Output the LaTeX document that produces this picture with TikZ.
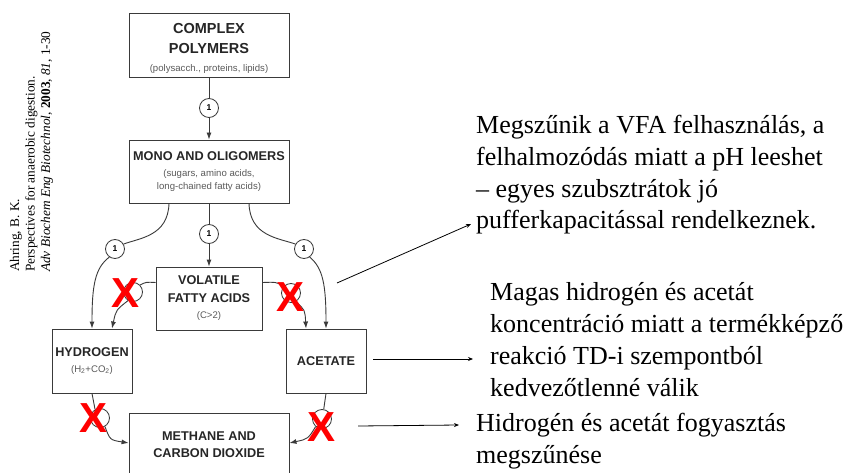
\documentclass[tikz,border=0pt]{standalone}
\usepackage{fontspec}
\setmainfont{Liberation Serif}
\newfontfamily\arialfont{Liberation Sans}
\usetikzlibrary{arrows.meta}
\definecolor{linegray}{HTML}{3A3A3A}
\definecolor{subgray}{HTML}{5A5A5A}
\newcommand{\subline}[1]{{\fontsize{9.6}{11.5}\selectfont\mdseries\color{subgray}#1}}
\tikzset{
  stagebox/.style={draw=linegray, line width=0.9pt, fill=white, inner sep=0pt, align=center,
    minimum height=64pt, text=black!85, font=\arialfont\bfseries\fontsize{12.7}{15}\selectfont},
  stepnum/.style={circle, draw=linegray, line width=0.8pt, fill=white, minimum size=19pt,
    inner sep=0pt, font=\arialfont\bfseries\fontsize{8.5}{8.5}\selectfont},
  flow/.style={draw=linegray, line width=0.9pt},
  flowarrow/.style={flow, -{Latex[length=7pt,width=5pt]}},
  redx/.style={text=red, inner sep=0pt, font=\arialfont\bfseries\fontsize{42}{42}\selectfont},
  note/.style={align=left, anchor=base west, inner sep=0pt, font=\fontsize{26}{31.7}\selectfont},
  annot/.style={line width=0.8pt, -{Stealth[length=5pt,width=4pt]}},
}
\begin{document}
\begin{tikzpicture}[x=1pt, y=-1pt]

\fill[white] (0,0) rectangle (854,473);
\useasboundingbox (0,0) rectangle (854,473);

% stages
\node[stagebox, minimum width=160pt, font=\arialfont\bfseries\fontsize{14.5}{20}\selectfont] (cplx) at (209,45)
  {\rule{0pt}{16pt}COMPLEX\\POLYMERS\\[-2pt]\subline{(polysacch., proteins, lipids)}};
\node[stagebox, minimum width=160pt, minimum height=63pt] (mono) at (209,171.5)
  {MONO AND OLIGOMERS\\[1pt]\subline{(sugars, amino acids,}\\[-2pt]\subline{long-chained fatty acids)}};
\node[stagebox, minimum width=106pt, minimum height=63pt] (vfa) at (209,298.5)
  {VOLATILE\\[3pt]FATTY ACIDS\\[1pt]\subline{(C>2)}};
\node[stagebox, minimum width=80pt] (hyd) at (92,361)
  {HYDROGEN\\[1pt]\subline{(H\textsubscript{2}+CO\textsubscript{2})}};
\node[stagebox, minimum width=80pt] (acet) at (326,361) {ACETATE};
\node[stagebox, minimum width=160pt] (meth) at (209,445)
  {METHANE AND\\[2pt]CARBON DIOXIDE};

% step circles
\node[stepnum] (c1) at (209,108) {1};
\node[stepnum] (c2) at (209,234) {1};
\node[stepnum] (c3) at (115,249) {1};
\node[stepnum] (c4) at (304,249) {1};
\node[stepnum] (c5) at (133,292) {};
\node[stepnum] (c6) at (291,293) {};
\node[stepnum] (c7) at (100,418) {};
\node[stepnum] (c8) at (322,419) {};

\draw[flow] (cplx) -- (c1);
\draw[flowarrow] (c1) -- (mono);
\draw[flow] (mono) -- (c2);
\draw[flowarrow] (c2) -- (vfa);

\draw[flow] ([xshift=-40pt]mono.south) .. controls (168,236) and (140,238) .. (c3.30);
\draw[flowarrow] (c3.235) .. controls (95,268) and (92,285) .. (hyd.north);
\draw[flow] ([xshift=40pt]mono.south) .. controls (250,236) and (278,238) .. (c4.150);
\draw[flowarrow] (c4.-55) .. controls (323,268) and (326,285) .. (acet.north);

\draw[flow] ([yshift=16pt]vfa.west) .. controls (146,282) .. (c5.45);
\draw[flowarrow] (c5.240) .. controls (116,310) .. ([xshift=20pt]hyd.north);
\draw[flow] ([yshift=16pt]vfa.east) .. controls (276,282) .. (c6.135);
\draw[flowarrow] (c6.-60) .. controls (305,310) .. ([xshift=-20pt]acet.north);

\draw[flow] (hyd.south) -- (c7.120);
\draw[flowarrow] (c7.-60) .. controls (110,440) .. ([yshift=2pt]meth.west);
\draw[flow] (acet.south) -- (c8.80);
\draw[flowarrow] (c8.230) .. controls (308,439) .. ([yshift=2pt]meth.east);

% blocked steps
\node[redx] (x1) at (126,293) {X};
\node[redx] (x2) at (291,297) {X};
\node[redx] (x3) at (94,418) {X};
\node[redx] (x4) at (322,427) {X};

% notes (base = last line)
\node[note] (note1) at (476,229)
  {Megszűnik a VFA felhasználás, a\\felhalmozódás miatt a pH leeshet\\– egyes szubsztrátok jó\\pufferkapacitással rendelkeznek.};
\node[note] (note2) at (490,396)
  {Magas hidrogén és acetát\\koncentráció miatt a termékképző\\reakció TD-i szempontból\\kedvezőtlenné válik};
\node[note] (note3) at (476,463)
  {Hidrogén és acetát fogyasztás\\megszűnése};

\coordinate (a1) at (337,283);
\coordinate (t1) at (471,224);
\coordinate (a2) at (373,359);
\coordinate (t2) at (473,359);
\coordinate (a3) at (358,426);
\coordinate (t3) at (459,425);
\draw[annot] (a1) -- (t1);
\draw[annot] (a2) -- (t2);
\draw[annot] (a3) -- (t3);

% reference
\node[rotate=90, anchor=base west, align=left, inner sep=0pt,
  font=\fontsize{13.3}{15.5}\selectfont] (ref) at (50,272)
  {Ahring, B. K.\\Perspectives for anaerobic digestion.\\\textit{Adv Biochem Eng Biotechnol}, \textbf{2003}, \textit{81}, 1-30};

\end{tikzpicture}
\end{document}
